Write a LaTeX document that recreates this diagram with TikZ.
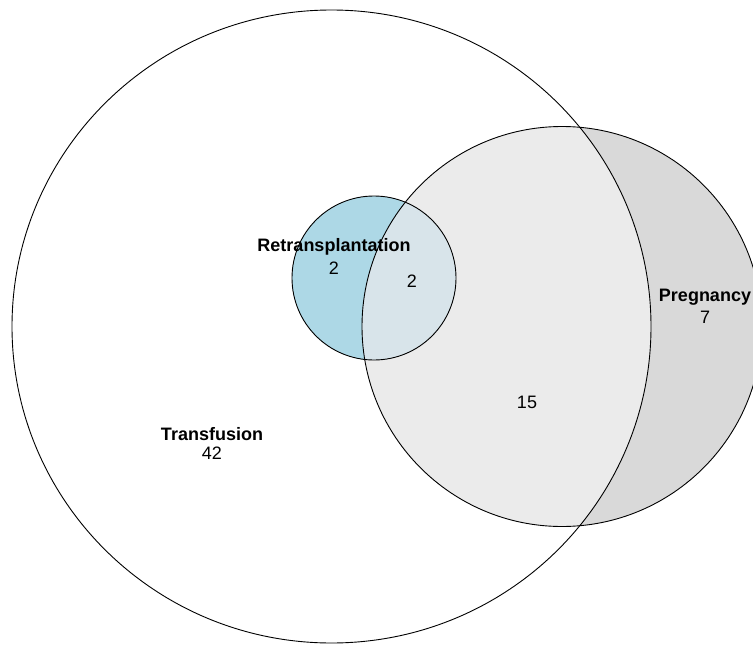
\documentclass[tikz,border=0pt]{standalone}
\usepackage{fontspec}
\setmainfont{Liberation Sans}
\definecolor{pregonly}{HTML}{D9D9D9}
\definecolor{pregtrans}{HTML}{EBEBEB}
\definecolor{retonly}{HTML}{ADD8E6}
\definecolor{retpreg}{HTML}{D8E4EA}
\begin{document}
\begin{tikzpicture}[x=1pt,y=-1pt,
  outline/.style={draw=black,line width=0.9pt},
  setlabel/.style={font=\fontsize{18}{20}\selectfont\bfseries,inner sep=0pt,anchor=center},
  countlabel/.style={font=\fontsize{18}{20}\selectfont,inner sep=0pt,anchor=center}]
\useasboundingbox (0,0) rectangle (753,645);
\clip (0,0) rectangle (753,645);
\def\Tc{(331.5,326.5)}\def\Trx{319.5}\def\Try{316.5}
\def\Pc{(562,326.5)}\def\Pr{200}
\def\Rc{(374,278)}\def\Rr{82}
% fills
\fill[pregonly] \Pc circle (\Pr);
\begin{scope}
  \clip \Tc ellipse ({\Trx} and {\Try});
  \fill[pregtrans] \Pc circle (\Pr);
\end{scope}
\fill[retonly] \Rc circle (\Rr);
\begin{scope}
  \clip \Pc circle (\Pr);
  \fill[retpreg] \Rc circle (\Rr);
\end{scope}
% outlines
\draw[outline] \Tc ellipse ({\Trx} and {\Try});
\draw[outline] \Pc circle (\Pr);
\draw[outline] \Rc circle (\Rr);
% labels
\node[setlabel] (tl) at (212,434) {Transfusion};
\node[countlabel] (tn) at (212,453) {42};
\node[setlabel] (rl) at (334,247) {Retransplantation};
\node[countlabel] (rn) at (334,268) {2};
\node[countlabel] (rpn) at (412,281) {2};
\node[setlabel] (pl) at (705,297) {Pregnancy};
\node[countlabel] (pn) at (705,317) {7};
\node[countlabel] (tpn) at (527,402) {15};
\end{tikzpicture}
\end{document}
